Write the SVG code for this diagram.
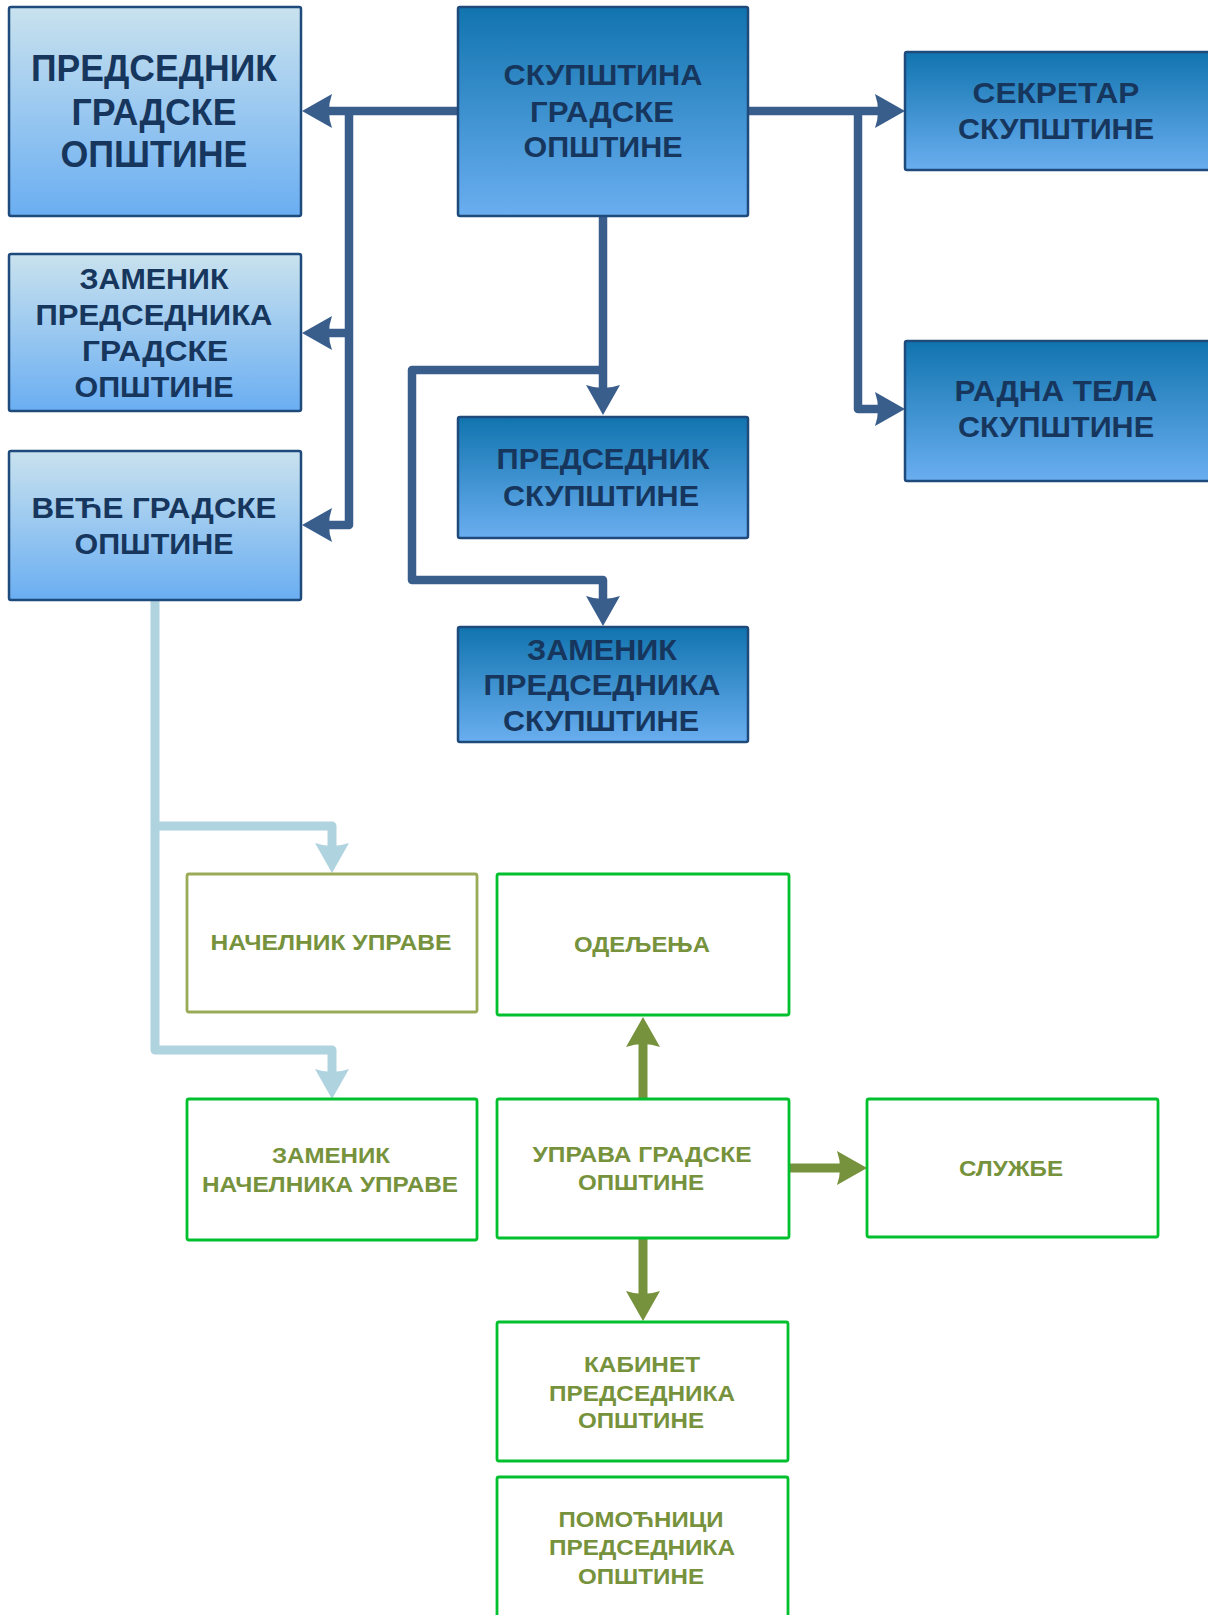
<svg xmlns="http://www.w3.org/2000/svg" width="1208" height="1615" viewBox="0 0 1208 1615">
<defs>
<linearGradient id="gLight" x1="0" y1="0" x2="0" y2="1">
<stop offset="0" stop-color="#c9e2ee"/><stop offset="1" stop-color="#6aaef2"/>
</linearGradient>
<linearGradient id="gDark" x1="0" y1="0" x2="0" y2="1">
<stop offset="0" stop-color="#1174ae"/><stop offset="1" stop-color="#6aaef0"/>
</linearGradient>
<marker id="aBlue" viewBox="0 -18 32 36" refX="4" refY="0" markerWidth="32" markerHeight="36" markerUnits="userSpaceOnUse" orient="auto">
<path d="M0,-17 L30,0 L0,17 Q6,0 0,-17 Z" fill="#3a5e8c"/>
</marker>
<marker id="aLight" viewBox="0 -18 32 36" refX="4" refY="0" markerWidth="32" markerHeight="36" markerUnits="userSpaceOnUse" orient="auto">
<path d="M0,-17 L30,0 L0,17 Q6,0 0,-17 Z" fill="#b0d3e0"/>
</marker>
<marker id="aOlive" viewBox="0 -18 32 36" refX="4" refY="0" markerWidth="32" markerHeight="36" markerUnits="userSpaceOnUse" orient="auto">
<path d="M0,-17 L30,0 L0,17 Q6,0 0,-17 Z" fill="#76923c"/>
</marker>
</defs>
<style>
.lb{fill:url(#gLight);stroke:#1f4a7c;stroke-width:2.5}
.db{fill:url(#gDark);stroke:#1f4a7c;stroke-width:2.5}
.gb{fill:#ffffff;stroke:#00c02e;stroke-width:2.8}
.ob{fill:#ffffff;stroke:#9aab58;stroke-width:2.8}
.bt{font-family:"Liberation Sans",Arial,sans-serif;font-weight:bold;fill:#17365d;text-anchor:middle;font-size:30px}
.bt36{font-size:36px}
.gt{font-family:"Liberation Sans",Arial,sans-serif;font-weight:bold;fill:#76923c;text-anchor:middle;font-size:22px}
.cb{fill:none;stroke:#3a5e8c;stroke-width:8.5;stroke-linejoin:round}
.cl{fill:none;stroke:#b0d3e0;stroke-width:9;stroke-linejoin:round}
.co{fill:none;stroke:#76923c;stroke-width:9}
</style>

<g id="connectors">
<path class="cb" d="M458,111 H328" marker-end="url(#aBlue)"/>
<path class="cb" d="M349,111 V525 H328" marker-end="url(#aBlue)"/>
<path class="cb" d="M349,333 H328" marker-end="url(#aBlue)"/>
<path class="cb" d="M748,111 H879" marker-end="url(#aBlue)"/>
<path class="cb" d="M858,111 V409 H879" marker-end="url(#aBlue)"/>
<path class="cb" d="M603,216 V389" marker-end="url(#aBlue)"/>
<path class="cb" d="M603,370 H412 V580 H603 V600" marker-end="url(#aBlue)"/>
<path class="cl" d="M155,600 V1050 H332 V1073" marker-end="url(#aLight)"/>
<path class="cl" d="M155,826 H332 V847" marker-end="url(#aLight)"/>
<path class="co" d="M643,1099 V1043" marker-end="url(#aOlive)"/>
<path class="co" d="M789,1168 H841" marker-end="url(#aOlive)"/>
<path class="co" d="M643,1238 V1295" marker-end="url(#aOlive)"/>
</g>

<g id="predsednik-gradske-opstine">
<rect class="lb" x="9" y="7" width="292" height="209" rx="2"/>
<text class="bt bt36" x="154" y="81" textLength="246" lengthAdjust="spacingAndGlyphs">ПРЕДСЕДНИК</text>
<text class="bt bt36" x="154" y="125" textLength="165" lengthAdjust="spacingAndGlyphs">ГРАДСКЕ</text>
<text class="bt bt36" x="154" y="167" textLength="187" lengthAdjust="spacingAndGlyphs">ОПШТИНЕ</text>
</g>

<g id="skupstina-gradske-opstine">
<rect class="db" x="458" y="7" width="290" height="209" rx="2"/>
<text class="bt" x="603" y="85" textLength="199" lengthAdjust="spacingAndGlyphs">СКУПШТИНА</text>
<text class="bt" x="602" y="122" textLength="144" lengthAdjust="spacingAndGlyphs">ГРАДСКЕ</text>
<text class="bt" x="603" y="157" textLength="159" lengthAdjust="spacingAndGlyphs">ОПШТИНЕ</text>
</g>

<g id="sekretar-skupstine">
<rect class="db" x="905" y="52" width="306" height="118" rx="2"/>
<text class="bt" x="1056" y="103" textLength="167" lengthAdjust="spacingAndGlyphs">СЕКРЕТАР</text>
<text class="bt" x="1056" y="139" textLength="196" lengthAdjust="spacingAndGlyphs">СКУПШТИНЕ</text>
</g>

<g id="zamenik-predsednika-gradske-opstine">
<rect class="lb" x="9" y="254" width="292" height="157" rx="2"/>
<text class="bt" x="154" y="289" textLength="149" lengthAdjust="spacingAndGlyphs">ЗАМЕНИК</text>
<text class="bt" x="154" y="325" textLength="237" lengthAdjust="spacingAndGlyphs">ПРЕДСЕДНИКА</text>
<text class="bt" x="155" y="361" textLength="146" lengthAdjust="spacingAndGlyphs">ГРАДСКЕ</text>
<text class="bt" x="154" y="397" textLength="159" lengthAdjust="spacingAndGlyphs">ОПШТИНЕ</text>
</g>

<g id="radna-tela-skupstine">
<rect class="db" x="905" y="341" width="306" height="140" rx="2"/>
<text class="bt" x="1056" y="401" textLength="203" lengthAdjust="spacingAndGlyphs">РАДНА ТЕЛА</text>
<text class="bt" x="1056" y="437" textLength="196" lengthAdjust="spacingAndGlyphs">СКУПШТИНЕ</text>
</g>

<g id="predsednik-skupstine">
<rect class="db" x="458" y="417" width="290" height="121" rx="2"/>
<text class="bt" x="603" y="469" textLength="213" lengthAdjust="spacingAndGlyphs">ПРЕДСЕДНИК</text>
<text class="bt" x="601" y="506" textLength="196" lengthAdjust="spacingAndGlyphs">СКУПШТИНЕ</text>
</g>

<g id="vece-gradske-opstine">
<rect class="lb" x="9" y="451" width="292" height="149" rx="2"/>
<text class="bt" x="154" y="518" textLength="245" lengthAdjust="spacingAndGlyphs">ВЕЋЕ ГРАДСКЕ</text>
<text class="bt" x="154" y="554" textLength="159" lengthAdjust="spacingAndGlyphs">ОПШТИНЕ</text>
</g>

<g id="zamenik-predsednika-skupstine">
<rect class="db" x="458" y="627" width="290" height="115" rx="2"/>
<text class="bt" x="602" y="660" textLength="150" lengthAdjust="spacingAndGlyphs">ЗАМЕНИК</text>
<text class="bt" x="602" y="695" textLength="237" lengthAdjust="spacingAndGlyphs">ПРЕДСЕДНИКА</text>
<text class="bt" x="601" y="731" textLength="196" lengthAdjust="spacingAndGlyphs">СКУПШТИНЕ</text>
</g>

<g id="nacelnik-uprave">
<rect class="ob" x="187" y="874" width="290" height="138" rx="2"/>
<text class="gt" x="331" y="950" textLength="241" lengthAdjust="spacingAndGlyphs">НАЧЕЛНИК УПРАВЕ</text>
</g>

<g id="odeljenja">
<rect class="gb" x="497" y="874" width="292" height="141" rx="2"/>
<text class="gt" x="642" y="952" textLength="136" lengthAdjust="spacingAndGlyphs">ОДЕЉЕЊА</text>
</g>

<g id="zamenik-nacelnika-uprave">
<rect class="gb" x="187" y="1099" width="290" height="141" rx="2"/>
<text class="gt" x="331" y="1163" textLength="118" lengthAdjust="spacingAndGlyphs">ЗАМЕНИК</text>
<text class="gt" x="330" y="1192" textLength="256" lengthAdjust="spacingAndGlyphs">НАЧЕЛНИКА УПРАВЕ</text>
</g>

<g id="uprava-gradske-opstine">
<rect class="gb" x="497" y="1099" width="292" height="139" rx="2"/>
<text class="gt" x="642" y="1162" textLength="219" lengthAdjust="spacingAndGlyphs">УПРАВА ГРАДСКЕ</text>
<text class="gt" x="641" y="1190" textLength="126" lengthAdjust="spacingAndGlyphs">ОПШТИНЕ</text>
</g>

<g id="sluzbe">
<rect class="gb" x="867" y="1099" width="291" height="138" rx="2"/>
<text class="gt" x="1011" y="1176" textLength="104" lengthAdjust="spacingAndGlyphs">СЛУЖБЕ</text>
</g>

<g id="kabinet-predsednika-opstine">
<rect class="gb" x="497" y="1322" width="291" height="139" rx="2"/>
<text class="gt" x="642" y="1372" textLength="116" lengthAdjust="spacingAndGlyphs">КАБИНЕТ</text>
<text class="gt" x="642" y="1401" textLength="186" lengthAdjust="spacingAndGlyphs">ПРЕДСЕДНИКА</text>
<text class="gt" x="641" y="1428" textLength="126" lengthAdjust="spacingAndGlyphs">ОПШТИНЕ</text>
</g>

<g id="pomocnici-predsednika-opstine">
<rect class="gb" x="497" y="1477" width="291" height="160" rx="2"/>
<text class="gt" x="641" y="1527" textLength="165" lengthAdjust="spacingAndGlyphs">ПОМОЋНИЦИ</text>
<text class="gt" x="642" y="1555" textLength="186" lengthAdjust="spacingAndGlyphs">ПРЕДСЕДНИКА</text>
<text class="gt" x="641" y="1584" textLength="126" lengthAdjust="spacingAndGlyphs">ОПШТИНЕ</text>
</g>
</svg>
